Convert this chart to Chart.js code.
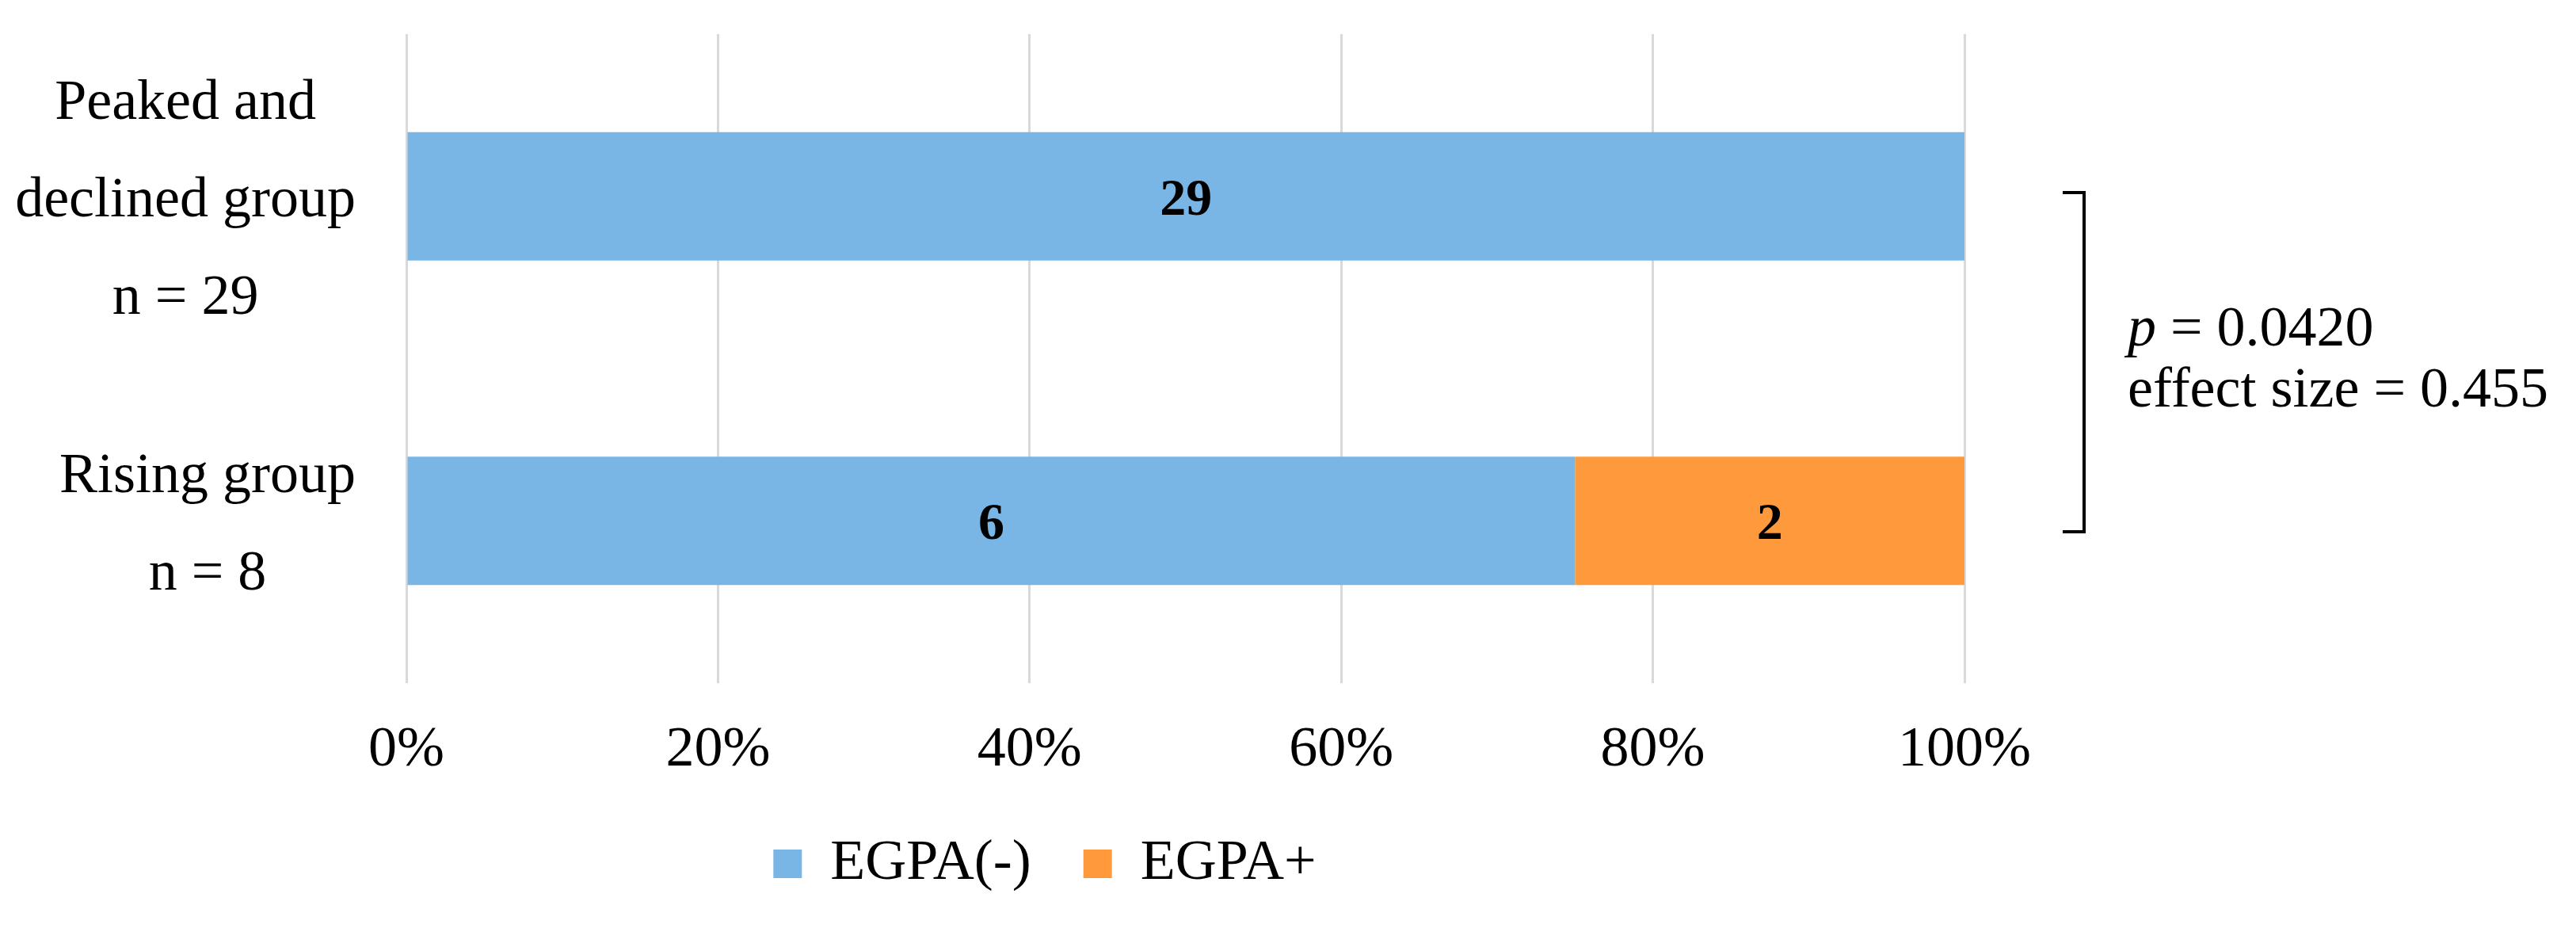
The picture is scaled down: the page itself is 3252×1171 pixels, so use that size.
<!DOCTYPE html>
<html>
<head>
<meta charset="utf-8">
<script src="https://cdn.jsdelivr.net/npm/chart.js@4.4.1/dist/chart.umd.min.js"></script>
<style>
    html, body { margin: 0; padding: 0; background: #fff; }
    #wrap { width: 3252px; height: 1171px; }
</style>
</head>
<body>
<div id="wrap"><canvas id="egpaChart" width="3252" height="1171"></canvas></div>
<script>
// Données du graphique
const groupes = [
    ['Peaked and', 'declined group', 'n = 29'],
    ['Rising group', 'n = 8']
];
const series = ['EGPA(-)', 'EGPA+'];
const egpaNeg = [29, 6];
const egpaPos = [0, 2];
const xTicks = [0, 20, 40, 60, 80, 100];
const couleurs = ['#79B5E5', '#FE9A3C'];
const statLignes = [['p', ' = 0.0420'], ['', 'effect size = 0.455']];

const FONT = '"Liberation Serif", "Times New Roman", serif';
const totaux = egpaNeg.map((v, i) => v + egpaPos[i]);
const enPourcent = arr => arr.map((v, i) => v / totaux[i] * 100);

// Libellés des groupes (centrés par bloc, comme Excel)
const libellesGroupes = {
    id: 'libellesGroupes',
    afterDraw(chart) {
        const ctx = chart.ctx;
        const y = chart.scales.y;
        const droite = chart.chartArea.left - 64;
        ctx.save();
        ctx.font = '72px ' + FONT;
        ctx.fillStyle = '#000';
        ctx.textAlign = 'center';
        ctx.textBaseline = 'alphabetic';
        groupes.forEach((lignes, i) => {
            const cy = y.getPixelForValue(i);
            const large = Math.max(...lignes.map(l => ctx.measureText(l).width));
            const cx = droite - large / 2;
            let by = cy - (lignes.length - 1) * 123 / 2 + 25;
            lignes.forEach(l => {
                ctx.fillText(l, cx, by);
                by += 123;
            });
        });
        ctx.restore();
    }
};

// Valeurs dans les barres
const valeursBarres = {
    id: 'valeursBarres',
    afterDatasetsDraw(chart) {
        const ctx = chart.ctx;
        ctx.save();
        ctx.font = 'bold 66px ' + FONT;
        ctx.fillStyle = '#000';
        ctx.textAlign = 'center';
        ctx.textBaseline = 'alphabetic';
        chart.data.datasets.forEach((ds, di) => {
            chart.getDatasetMeta(di).data.forEach((bar, i) => {
                if (!ds.comptes[i]) return;
                const p = bar.getProps(['x', 'y', 'base'], true);
                ctx.fillText(String(ds.comptes[i]), (p.x + p.base) / 2, p.y + 23);
            });
        });
        ctx.restore();
    }
};

// Accolade et statistiques à droite
const statistiques = {
    id: 'statistiques',
    afterDraw(chart) {
        const ctx = chart.ctx;
        const r = chart.chartArea.right;
        ctx.save();
        ctx.strokeStyle = '#000';
        ctx.lineWidth = 4;
        ctx.lineJoin = 'miter';
        ctx.beginPath();
        ctx.moveTo(r + 124, 243);
        ctx.lineTo(r + 151, 243);
        ctx.lineTo(r + 151, 671);
        ctx.lineTo(r + 124, 671);
        ctx.stroke();

        ctx.fillStyle = '#000';
        ctx.textBaseline = 'alphabetic';
        ctx.textAlign = 'left';
        let by = 436;
        statLignes.forEach(([ital, reste]) => {
            let x = r + 206;
            if (ital) {
                ctx.font = 'italic 72px ' + FONT;
                ctx.fillText(ital, x, by);
                x += ctx.measureText(ital).width;
            }
            ctx.font = '72px ' + FONT;
            ctx.fillText(reste, x, by);
            by += 77;
        });
        ctx.restore();
    }
};

new Chart(document.getElementById('egpaChart'), {
    type: 'bar',
    data: {
        labels: groupes,
        datasets: [
            {
                label: series[0],
                data: enPourcent(egpaNeg),
                comptes: egpaNeg,
                backgroundColor: couleurs[0],
                borderWidth: 0
            },
            {
                label: series[1],
                data: enPourcent(egpaPos),
                comptes: egpaPos,
                backgroundColor: couleurs[1],
                borderWidth: 0
            }
        ]
    },
    options: {
        indexAxis: 'y',
        responsive: false,
        devicePixelRatio: 1,
        animation: false,
        datasets: {
            bar: { categoryPercentage: 1, barPercentage: 0.396 }
        },
        layout: {
            padding: { left: 0, right: 614, top: 43, bottom: 35 }
        },
        plugins: {
            tooltip: { enabled: false },
            legend: {
                position: 'bottom',
                labels: {
                    color: '#000',
                    font: { family: FONT, size: 72 },
                    boxWidth: 36,
                    boxHeight: 36,
                    padding: 66
                }
            }
        },
        scales: {
            x: {
                stacked: true,
                min: 0,
                max: 100,
                afterBuildTicks: s => { s.ticks = xTicks.map(v => ({ value: v })); },
                afterFit: s => { s.height = 126; },
                grid: { color: '#D9D9D9', lineWidth: 3, drawTicks: false },
                border: { display: false },
                ticks: {
                    color: '#000',
                    padding: 42,
                    font: { family: FONT, size: 72 },
                    callback: v => v + '%'
                }
            },
            y: {
                stacked: true,
                afterFit: s => { s.width = 513; },
                grid: { display: false },
                border: { display: false },
                ticks: { display: false }
            },
            y2: {
                type: 'linear',
                position: 'right',
                afterFit: s => { s.width = 158; },
                grid: { display: false },
                border: { display: false },
                ticks: { display: false }
            }
        }
    },
    plugins: [valeursBarres, libellesGroupes, statistiques]
});
</script>
</body>
</html>
